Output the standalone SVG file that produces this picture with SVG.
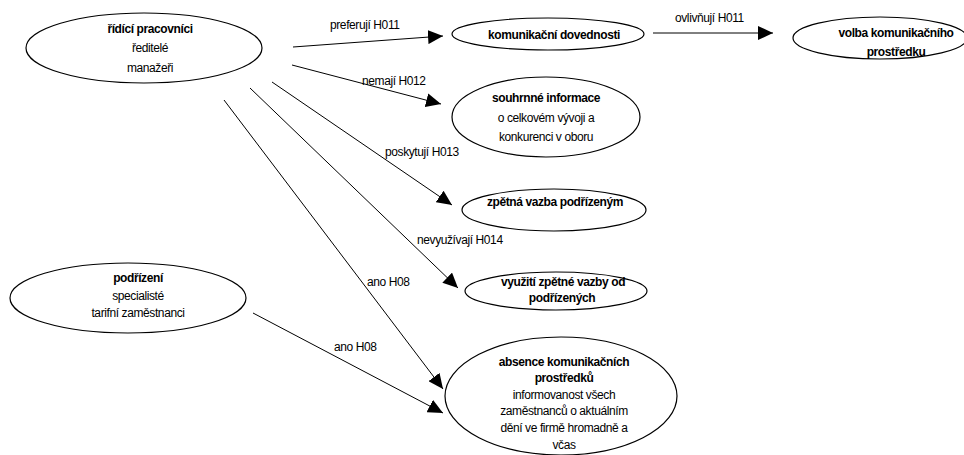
<svg xmlns="http://www.w3.org/2000/svg" width="964" height="455" viewBox="0 0 964 455">
  <defs>
    <marker id="arrow" markerUnits="userSpaceOnUse" markerWidth="16" markerHeight="14" refX="15" refY="7" orient="auto">
      <path d="M0,0 L15,7 L0,14 Z" fill="#000"/>
    </marker>
    <style>
      .node ellipse { fill: #fff; stroke: #000; stroke-width: 1.2; }
      text { font-family: "Liberation Sans", Arial, sans-serif; font-size: 12px; fill: #000; text-anchor: middle; letter-spacing: -0.4px; }
      .b { font-weight: bold; }
      .lbl { text-anchor: start; }
      .edge { stroke: #000; stroke-width: 1; fill: none; marker-end: url(#arrow); }
    </style>
  </defs>
  <rect width="964" height="455" fill="#fff"/>

  <!-- connectors -->
  <g id="connectors">
    <line class="edge" x1="293" y1="47" x2="443" y2="36"/>
    <line class="edge" x1="653" y1="33" x2="773" y2="33"/>
    <line class="edge" x1="292" y1="65" x2="441" y2="104"/>
    <line class="edge" x1="272" y1="82" x2="452" y2="205"/>
    <line class="edge" x1="250" y1="88" x2="458" y2="288"/>
    <line class="edge" x1="224" y1="100" x2="443" y2="389"/>
    <line class="edge" x1="253" y1="313" x2="443" y2="413"/>
    <text class="lbl" x="330" y="29">preferují H011</text>
    <text class="lbl" x="675" y="22">ovlivňují H011</text>
    <text class="lbl" x="362" y="85">nemají H012</text>
    <text class="lbl" x="385" y="156">poskytují H013</text>
    <text class="lbl" x="417" y="244">nevyužívají H014</text>
    <text class="lbl" x="367" y="286">ano H08</text>
    <text class="lbl" x="334" y="351">ano H08</text>
  </g>

  <g id="ridici-pracovnici" class="node">
    <ellipse cx="144" cy="48" rx="118" ry="35"/>
    <text class="b" x="150" y="33">řídící pracovníci</text>
    <text x="150" y="52">ředitelé</text>
    <text x="150" y="72">manažeři</text>
  </g>

  <g id="komunikacni-dovednosti" class="node">
    <ellipse cx="548" cy="34" rx="96" ry="16"/>
    <text class="b" x="554" y="39">komunikační dovednosti</text>
  </g>

  <g id="volba-prostredku" class="node">
    <ellipse cx="880" cy="38" rx="87" ry="21"/>
    <text class="b" x="896" y="37">volba komunikačního</text>
    <text class="b" x="896" y="56">prostředku</text>
  </g>

  <g id="souhrnne-informace" class="node">
    <ellipse cx="546" cy="117" rx="94" ry="40"/>
    <text class="b" x="546" y="102">souhrnné informace</text>
    <text x="546" y="122">o celkovém vývoji a</text>
    <text x="546" y="141">konkurenci v oboru</text>
  </g>

  <g id="zpetna-vazba" class="node">
    <ellipse cx="554" cy="210" rx="92" ry="21"/>
    <text class="b" x="555" y="206">zpětná vazba podřízeným</text>
  </g>

  <g id="vyuziti-zpetne-vazby" class="node">
    <ellipse cx="556" cy="291" rx="91" ry="19"/>
    <text class="b" x="563" y="286">využití zpětné vazby od</text>
    <text class="b" x="562" y="302">podřízených</text>
  </g>

  <g id="podrizeni" class="node">
    <ellipse cx="128" cy="298" rx="118" ry="35"/>
    <text class="b" x="138" y="282">podřízení</text>
    <text x="138" y="300">specialisté</text>
    <text x="138" y="317">tarifní zaměstnanci</text>
  </g>

  <g id="absence-prostredku" class="node">
    <ellipse cx="561" cy="396" rx="116" ry="59"/>
    <text class="b" x="564" y="366">absence komunikačních</text>
    <text class="b" x="564" y="382">prostředků</text>
    <text x="564" y="399">informovanost všech</text>
    <text x="564" y="415">zaměstnanců o aktuálním</text>
    <text x="564" y="432">dění ve firmě hromadně a</text>
    <text x="564" y="449">včas</text>
  </g>
</svg>
